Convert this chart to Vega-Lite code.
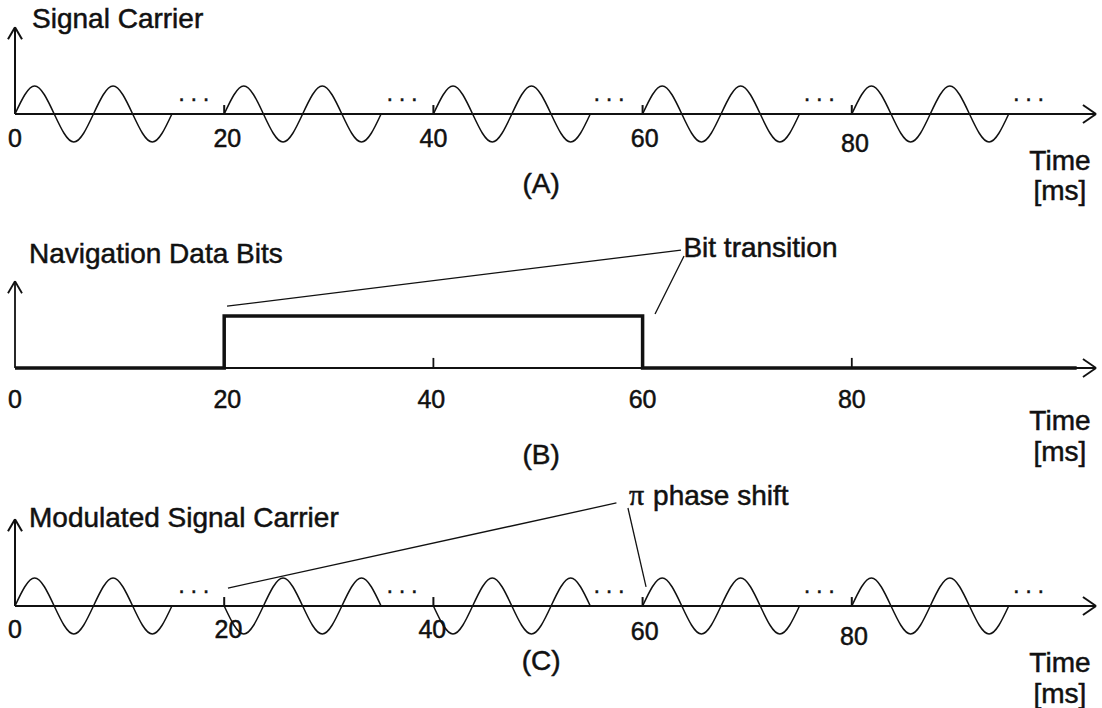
{
  "$schema": "https://vega.github.io/schema/vega-lite/v6.json",
  "padding": 0,
  "spacing": 0,
  "bounds": "flush",
  "background": "white",
  "config": {"view": {"stroke": null}, "text": {"font": "Liberation Sans", "color": "#111", "stroke": "#111", "strokeWidth": 0.5}},
  "datasets": {
    "carrier": [
      {"s":0,"t":0,"a":0,"c":0},{"s":0,"t":1.875,"a":1,"c":1},{"s":0,"t":3.75,"a":0,"c":0},{"s":0,"t":5.625,"a":-1,"c":-1},{"s":0,"t":7.5,"a":0,"c":0},{"s":0,"t":9.375,"a":1,"c":1},{"s":0,"t":11.25,"a":0,"c":0},{"s":0,"t":13.125,"a":-1,"c":-1},{"s":0,"t":15,"a":0,"c":0},
      {"s":20,"t":20,"a":0,"c":0},{"s":20,"t":21.875,"a":1,"c":-1},{"s":20,"t":23.75,"a":0,"c":0},{"s":20,"t":25.625,"a":-1,"c":1},{"s":20,"t":27.5,"a":0,"c":0},{"s":20,"t":29.375,"a":1,"c":-1},{"s":20,"t":31.25,"a":0,"c":0},{"s":20,"t":33.125,"a":-1,"c":1},{"s":20,"t":35,"a":0,"c":0},
      {"s":40,"t":40,"a":0,"c":0},{"s":40,"t":41.875,"a":1,"c":-1},{"s":40,"t":43.75,"a":0,"c":0},{"s":40,"t":45.625,"a":-1,"c":1},{"s":40,"t":47.5,"a":0,"c":0},{"s":40,"t":49.375,"a":1,"c":-1},{"s":40,"t":51.25,"a":0,"c":0},{"s":40,"t":53.125,"a":-1,"c":1},{"s":40,"t":55,"a":0,"c":0},
      {"s":60,"t":60,"a":0,"c":0},{"s":60,"t":61.875,"a":1,"c":1},{"s":60,"t":63.75,"a":0,"c":0},{"s":60,"t":65.625,"a":-1,"c":-1},{"s":60,"t":67.5,"a":0,"c":0},{"s":60,"t":69.375,"a":1,"c":1},{"s":60,"t":71.25,"a":0,"c":0},{"s":60,"t":73.125,"a":-1,"c":-1},{"s":60,"t":75,"a":0,"c":0},
      {"s":80,"t":80,"a":0,"c":0},{"s":80,"t":81.875,"a":1,"c":1},{"s":80,"t":83.75,"a":0,"c":0},{"s":80,"t":85.625,"a":-1,"c":-1},{"s":80,"t":87.5,"a":0,"c":0},{"s":80,"t":89.375,"a":1,"c":1},{"s":80,"t":91.25,"a":0,"c":0},{"s":80,"t":93.125,"a":-1,"c":-1},{"s":80,"t":95,"a":0,"c":0}
    ],
    "dots": [
      {"t":17.1,"v":0.46},{"t":37.0,"v":0.46},{"t":56.8,"v":0.46},{"t":76.9,"v":0.46},{"t":96.9,"v":0.46}
    ]
  },
  "vconcat": [
    {
      "width": 1102, "height": 236,
      "encoding": {
        "x": {"field":"t","type":"quantitative","scale":{"domain":[-1.434,103.92],"nice":false,"zero":false},"axis":null},
        "y": {"field":"v","type":"quantitative","scale":{"domain":[-4.357,4.071],"nice":false,"zero":false},"axis":null}
      },
      "layer": [
        {
          "data": {"values": [
            {"t":0,"v":0,"t2":103.35,"v2":0},
            {"t":102.1,"v":0.32,"t2":103.35,"v2":0},
            {"t":102.1,"v":-0.32,"t2":103.35,"v2":0},
            {"t":0,"v":0,"t2":0,"v2":3.1},
            {"t":-0.67,"v":2.67,"t2":0,"v2":3.1},
            {"t":0.67,"v":2.67,"t2":0,"v2":3.1},
            {"t":20,"v":0,"t2":20,"v2":0.32},
            {"t":40,"v":0,"t2":40,"v2":0.32},
            {"t":60,"v":0,"t2":60,"v2":0.32},
            {"t":80,"v":0,"t2":80,"v2":0.32}
          ]},
          "mark": {"type":"rule","strokeWidth":2,"color":"#111"},
          "encoding": {"x2":{"field":"t2"},"y2":{"field":"v2"}}
        },
        {
          "data": {"name":"carrier"},
          "mark": {"type":"line","interpolate":"natural","strokeWidth":1.5,"color":"#111"},
          "encoding": {
            "y": {"field":"a","type":"quantitative","scale":{"domain":[-4.357,4.071],"nice":false,"zero":false},"axis":null},
            "detail": {"field":"s"}
          }
        },
        {
          "data": {"name":"dots"},
          "mark": {"type":"text","text":". . .","fontSize":22,"align":"center","baseline":"alphabetic"}
        },
        {
          "data": {"values": [
            {"t":0,"v":-1.18,"label":"0"},
            {"t":20.3,"v":-1.18,"label":"20"},
            {"t":40,"v":-1.18,"label":"40"},
            {"t":60.2,"v":-1.18,"label":"60"},
            {"t":80.3,"v":-1.36,"label":"80"}
          ]},
          "mark": {"type":"text","fontSize":25,"align":"center","baseline":"alphabetic"},
          "encoding": {"text":{"field":"label"}}
        },
        {
          "data": {"values": [
            {"t":99.9,"v":-2.0,"label":"Time"},
            {"t":99.9,"v":-3.07,"label":"[ms]"},
            {"t":50.3,"v":-2.82,"label":"(A)"}
          ]},
          "mark": {"type":"text","fontSize":28,"align":"center","baseline":"alphabetic"},
          "encoding": {"text":{"field":"label"}}
        },
        {
          "data": {"values": [
            {"t":1.63,"v":3.07,"label":"Signal Carrier"}
          ]},
          "mark": {"type":"text","fontSize":28,"align":"left","baseline":"alphabetic"},
          "encoding": {"text":{"field":"label"}}
        }
      ]
    },
    {
      "width": 1102, "height": 236,
      "encoding": {
        "x": {"field":"t","type":"quantitative","scale":{"domain":[-1.434,103.92],"nice":false,"zero":false},"axis":null},
        "y": {"field":"v","type":"quantitative","scale":{"domain":[-3.714,4.714],"nice":false,"zero":false},"axis":null}
      },
      "layer": [
        {
          "data": {"values": [
            {"t":0,"v":0,"t2":103.35,"v2":0},
            {"t":102.1,"v":0.32,"t2":103.35,"v2":0},
            {"t":102.1,"v":-0.32,"t2":103.35,"v2":0},
            {"t":0,"v":0,"t2":0,"v2":3.1},
            {"t":-0.67,"v":2.67,"t2":0,"v2":3.1},
            {"t":0.67,"v":2.67,"t2":0,"v2":3.1},
            {"t":40,"v":0,"t2":40,"v2":0.36},
            {"t":80,"v":0,"t2":80,"v2":0.36}
          ]},
          "mark": {"type":"rule","strokeWidth":1.8,"color":"#111"},
          "encoding": {"x2":{"field":"t2"},"y2":{"field":"v2"}}
        },
        {
          "data": {"values": [
            {"k":1,"t":0,"v":0},
            {"k":2,"t":20,"v":0},
            {"k":3,"t":20,"v":1.86},
            {"k":4,"t":60,"v":1.86},
            {"k":5,"t":60,"v":0},
            {"k":6,"t":101.5,"v":0}
          ]},
          "mark": {"type":"line","strokeWidth":3.5,"color":"#111","strokeJoin":"miter","strokeCap":"butt"},
          "encoding": {"order":{"field":"k","type":"quantitative"}}
        },
        {
          "data": {"values": [
            {"t":20.27,"v":2.21,"t2":63.67,"v2":4.21},
            {"t":63.96,"v":4.0,"t2":61.19,"v2":1.93}
          ]},
          "mark": {"type":"rule","strokeWidth":1.3,"color":"#111"},
          "encoding": {"x2":{"field":"t2"},"y2":{"field":"v2"}}
        },
        {
          "data": {"values": [
            {"t":0,"v":-1.43,"label":"0"},
            {"t":20.3,"v":-1.43,"label":"20"},
            {"t":39.8,"v":-1.43,"label":"40"},
            {"t":60,"v":-1.43,"label":"60"},
            {"t":80,"v":-1.43,"label":"80"}
          ]},
          "mark": {"type":"text","fontSize":25,"align":"center","baseline":"alphabetic"},
          "encoding": {"text":{"field":"label"}}
        },
        {
          "data": {"values": [
            {"t":99.9,"v":-2.21,"label":"Time"},
            {"t":99.9,"v":-3.32,"label":"[ms]"},
            {"t":50.3,"v":-3.43,"label":"(B)"}
          ]},
          "mark": {"type":"text","fontSize":28,"align":"center","baseline":"alphabetic"},
          "encoding": {"text":{"field":"label"}}
        },
        {
          "data": {"values": [
            {"t":1.34,"v":3.75,"label":"Navigation Data Bits"},
            {"t":63.9,"v":3.96,"label":"Bit transition"}
          ]},
          "mark": {"type":"text","fontSize":28,"align":"left","baseline":"alphabetic"},
          "encoding": {"text":{"field":"label"}}
        }
      ]
    },
    {
      "width": 1102, "height": 236,
      "encoding": {
        "x": {"field":"t","type":"quantitative","scale":{"domain":[-1.434,103.92],"nice":false,"zero":false},"axis":null},
        "y": {"field":"v","type":"quantitative","scale":{"domain":[-3.643,4.786],"nice":false,"zero":false},"axis":null}
      },
      "layer": [
        {
          "data": {"values": [
            {"t":0,"v":0,"t2":103.35,"v2":0},
            {"t":102.1,"v":0.32,"t2":103.35,"v2":0},
            {"t":102.1,"v":-0.32,"t2":103.35,"v2":0},
            {"t":0,"v":0,"t2":0,"v2":3.1},
            {"t":-0.67,"v":2.67,"t2":0,"v2":3.1},
            {"t":0.67,"v":2.67,"t2":0,"v2":3.1},
            {"t":20,"v":0,"t2":20,"v2":0.32},
            {"t":40,"v":0,"t2":40,"v2":0.32},
            {"t":60,"v":0,"t2":60,"v2":0.32},
            {"t":80,"v":0,"t2":80,"v2":0.32}
          ]},
          "mark": {"type":"rule","strokeWidth":2,"color":"#111"},
          "encoding": {"x2":{"field":"t2"},"y2":{"field":"v2"}}
        },
        {
          "data": {"name":"carrier"},
          "mark": {"type":"line","interpolate":"natural","strokeWidth":1.5,"color":"#111"},
          "encoding": {
            "y": {"field":"c","type":"quantitative","scale":{"domain":[-3.643,4.786],"nice":false,"zero":false},"axis":null},
            "detail": {"field":"s"}
          }
        },
        {
          "data": {"name":"dots"},
          "mark": {"type":"text","text":". . .","fontSize":22,"align":"center","baseline":"alphabetic"}
        },
        {
          "data": {"values": [
            {"t":20.36,"v":0.64,"t2":57.5,"v2":3.68},
            {"t":58.6,"v":3.5,"t2":60.33,"v2":0.68}
          ]},
          "mark": {"type":"rule","strokeWidth":1.3,"color":"#111"},
          "encoding": {"x2":{"field":"t2"},"y2":{"field":"v2"}}
        },
        {
          "data": {"values": [
            {"t":0,"v":-1.14,"label":"0"},
            {"t":20.4,"v":-1.14,"label":"20"},
            {"t":39.9,"v":-1.14,"label":"40"},
            {"t":60.2,"v":-1.2,"label":"60"},
            {"t":80.2,"v":-1.39,"label":"80"}
          ]},
          "mark": {"type":"text","fontSize":25,"align":"center","baseline":"alphabetic"},
          "encoding": {"text":{"field":"label"}}
        },
        {
          "data": {"values": [
            {"t":99.9,"v":-2.36,"label":"Time"},
            {"t":99.9,"v":-3.45,"label":"[ms]"},
            {"t":50.3,"v":-2.29,"label":"(C)"}
          ]},
          "mark": {"type":"text","fontSize":28,"align":"center","baseline":"alphabetic"},
          "encoding": {"text":{"field":"label"}}
        },
        {
          "data": {"values": [
            {"t":1.34,"v":2.82,"label":"Modulated Signal Carrier"},
            {"t":61.0,"v":3.6,"label":"phase shift"}
          ]},
          "mark": {"type":"text","fontSize":28,"align":"left","baseline":"alphabetic"},
          "encoding": {"text":{"field":"label"}}
        },
        {
          "data": {"values": [
            {"t":58.7,"v":3.6,"label":"π"}
          ]},
          "mark": {"type":"text","fontSize":30,"align":"left","baseline":"alphabetic","font":"Liberation Serif"},
          "encoding": {"text":{"field":"label"}}
        }
      ]
    }
  ]
}
